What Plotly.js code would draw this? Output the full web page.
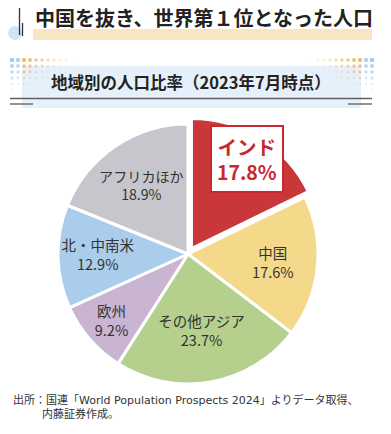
<!DOCTYPE html>
<html><head><meta charset="utf-8">
<script src="https://cdn.plot.ly/plotly-3.0.1.min.js"></script>
<style>html,body{margin:0;padding:0;background:#fff}#c{width:391px;height:434px}</style>
</head><body><div id="c"></div>
<script>
const regions = ["インド", "中国", "その他アジア", "欧州", "北・中南米", "アフリカほか"];
const shares = [17.8, 17.6, 23.7, 9.2, 12.9, 18.9];
const sliceColors = ["#c9373b", "#f4d98b", "#b5d08c", "#c9b4d2", "#abcdec", "#c6c6cc"];
const mainTitle = "中国を抜き、世界第１位となった人口";
const subTitle = "地域別の人口比率（2023年7月時点）";
const sourceLine1 = "出所：国連「World Population Prospects 2024」よりデータ取得、";
const sourceLine2 = "内藤証券作成。";

const W = 391, H = 434;
const FONT = "'Noto Sans CJK JP', 'Noto Sans', sans-serif";
const NOTE_FONT = "'DejaVu Sans', 'Noto Sans CJK JP', sans-serif";
const cxPx = 188, cyPx = 254, rPx = 130, pullMax = 0.05;
const half = rPx * (1 + pullMax);
const domX = [(cxPx - half) / W, (cxPx + half) / W];
const domY = [(H - cyPx - half) / H, (H - cyPx + half) / H];

const highlight = 0;
const pulls = regions.map((_, i) => i === highlight ? pullMax : 0);
const templates = regions.map((_, i) => i === highlight ? "" : "%{label}<br>%{value}%");

const trace = {
  type: "pie", labels: regions, values: shares, sort: false, direction: "clockwise",
  marker: { colors: sliceColors, line: { color: "#ffffff", width: 3 } },
  pull: pulls, texttemplate: templates, textposition: "inside",
  insidetextorientation: "horizontal",
  insidetextfont: { family: FONT, size: 14.5, color: "#333333" },
  hoverinfo: "none", showlegend: false,
  domain: { x: domX, y: domY }
};

// India label position derived from the data (mid-angle of its slice)
const total = shares.reduce((a, b) => a + b, 0);
let cum = 0; for (let i = 0; i < highlight; i++) cum += shares[i];
const ang = (cum + shares[highlight] / 2) / total * 2 * Math.PI;
const dist = 0.86 * rPx;
const annX = (cxPx + dist * Math.sin(ang)) / W;
const annY = (H - cyPx + dist * Math.cos(ang)) / H;

const shapes = [];
const px = x => x / W, py = y => 1 - y / H;
shapes.push({ type: "rect", xref: "paper", yref: "paper", x0: px(33), x1: px(372), y0: py(40), y1: py(29), fillcolor: "#f8e5c2", line: { width: 0 }, layer: "below" });
shapes.push({ type: "circle", xref: "paper", yref: "paper", x0: px(8), x1: px(22), y0: py(40), y1: py(26), fillcolor: "#cfe4f6", line: { width: 0 }, layer: "below" });
shapes.push({ type: "line", xref: "paper", yref: "paper", x0: px(19.5), x1: px(19.5), y0: py(8), y1: py(35), line: { color: "#333", width: 1.3 } });
shapes.push({ type: "line", xref: "paper", yref: "paper", x0: px(22.5), x1: px(22.5), y0: py(23), y1: py(36), line: { color: "#333", width: 1.3 } });
shapes.push({ type: "rect", xref: "paper", yref: "paper", x0: px(22), x1: px(361), y0: py(108), y1: py(66), fillcolor: "#e5f0fa", line: { width: 0 }, layer: "below" });
shapes.push({ type: "line", xref: "paper", yref: "paper", x0: px(10), x1: px(372), y0: py(98.5), y1: py(98.5), line: { color: "#5f5f5f", width: 1.6 } });
shapes.push({ type: "line", xref: "paper", yref: "paper", x0: px(10), x1: px(33), y0: py(104), y1: py(104), line: { color: "#7a7a7a", width: 1.6 } });
shapes.push({ type: "line", xref: "paper", yref: "paper", x0: px(348), x1: px(372), y0: py(104), y1: py(104), line: { color: "#7a7a7a", width: 1.6 } });
function dot(x, y, r, c, op) {
  shapes.push({ type: "circle", xref: "paper", yref: "paper", x0: px(x - r), x1: px(x + r), y0: py(y + r), y1: py(y - r), fillcolor: c, opacity: op, line: { width: 0 }, layer: "below" });
}
const rowsY = [60, 66, 72, 78, 84, 90];
rowsY.forEach((y, ri) => {
  for (let ci = 0; ci < 12; ci++) {
    const xl = 12 + ci * 6, xr = 372 - ci * 6;
    const fade = Math.max(0.12, 1 - ci * 0.09 - ri * 0.15);
    const r = Math.max(0.7, 2.3 - ci * 0.13 - ri * 0.25);
    const col = ci < 2 ? "#a9cdee" : "#f0a43a";
    dot(xl, y, r, col, fade);
    dot(xr, y, r, col, fade);
  }
});

const layout = {
  width: W, height: H, margin: { l: 0, r: 0, t: 0, b: 0 },
  paper_bgcolor: "#ffffff", plot_bgcolor: "#ffffff",
  title: { text: "<b>" + mainTitle + "</b>", font: { family: FONT, size: 20, color: "#222" }, x: px(35), xanchor: "left", xref: "paper", y: 1 - 19 / H, yref: "container", yanchor: "middle" },
  shapes: shapes,
  annotations: [
    { text: "<b>" + subTitle + "</b>", xref: "paper", yref: "paper", x: px(191), y: py(82), showarrow: false, font: { family: FONT, size: 16.5, color: "#222" }, xanchor: "center", yanchor: "middle" },
    { text: "<b>" + regions[highlight] + "<br>" + shares[highlight] + "%</b>", xref: "paper", yref: "paper", x: annX, y: annY, showarrow: false, font: { family: FONT, size: 19.5, color: "#c8282e" }, bgcolor: "#ffffff", bordercolor: "#c8282e", borderwidth: 2, borderpad: 5, xanchor: "center", yanchor: "middle" },
    { text: sourceLine1, xref: "paper", yref: "paper", x: px(11), y: py(400), showarrow: false, align: "left", font: { family: NOTE_FONT, size: 11, color: "#333" }, xanchor: "left", yanchor: "middle" },
    { text: sourceLine2, xref: "paper", yref: "paper", x: px(40), y: py(414), showarrow: false, align: "left", font: { family: NOTE_FONT, size: 11, color: "#333" }, xanchor: "left", yanchor: "middle" }
  ]
};
Plotly.newPlot("c", [trace], layout, { displayModeBar: false, staticPlot: true });
</script></body></html>
